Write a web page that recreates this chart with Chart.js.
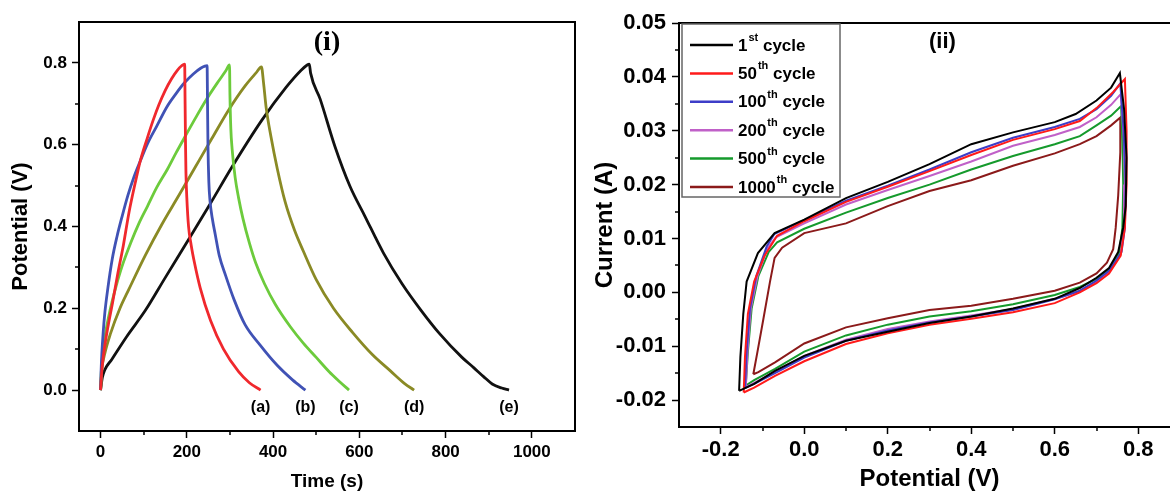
<!DOCTYPE html>
<html>
<head>
<meta charset="utf-8">
<script src="https://cdn.jsdelivr.net/npm/chart.js@4.4.1/dist/chart.umd.min.js"></script>
<style>
  html, body { margin: 0; padding: 0; background: #fff; overflow: hidden; width: 1170px; height: 495px; }
  #gcd { position: absolute; left: 0; top: 0; }
  #cv { position: absolute; left: 590px; top: 0; }
</style>
</head>
<body>
<canvas id="gcd" width="590" height="495"></canvas>
<canvas id="cv" width="610" height="495"></canvas>
<script>
// ---------- panel (i): charge / discharge curves ----------
const gcdTags = ['(a)', '(b)', '(c)', '(d)', '(e)'];
const gcdColors = ['#f0282d', '#4052b5', '#6ccb3c', '#8a8a25', '#111111'];
const gcdXTicks = [0, 200, 400, 600, 800, 1000];
const gcdYTicks = [0, 0.2, 0.4, 0.6, 0.8];

const timeA = [0, 2, 5, 10, 18, 28, 40, 53, 66, 80, 92, 108, 122, 135, 150, 165, 178, 188, 195,
  196, 197, 198, 200, 204, 210, 218, 231, 255, 285, 320, 345, 371];
const potA = [0, 0.035, 0.07, 0.11, 0.16, 0.215, 0.285, 0.355, 0.435, 0.505, 0.56, 0.615, 0.66, 0.697, 0.733, 0.762, 0.782, 0.793, 0.797,
  0.70, 0.60, 0.53, 0.47, 0.40, 0.355, 0.31, 0.25, 0.17, 0.10, 0.045, 0.018, 0];

const timeB = [0, 1, 3, 6, 10, 17, 27, 38, 50, 63, 77, 92, 110, 130, 154, 175, 195, 215, 232, 242, 247,
  248, 249, 251, 254, 259, 266, 275, 290, 310, 335, 370, 410, 445, 475];
const potB = [0, 0.04, 0.09, 0.14, 0.19, 0.25, 0.32, 0.375, 0.425, 0.475, 0.52, 0.56, 0.605, 0.645, 0.693, 0.725, 0.752, 0.773, 0.787, 0.792, 0.793,
  0.70, 0.60, 0.51, 0.46, 0.42, 0.38, 0.33, 0.28, 0.22, 0.16, 0.11, 0.06, 0.025, 0];

const timeC = [0, 2, 5, 10, 23, 35, 49, 70, 90, 109, 130, 155, 175, 196, 220, 245, 270, 290, 299,
  300, 302, 305, 312, 320, 330, 345, 360, 380, 405, 440, 470, 500, 530, 555, 576];
const potC = [0, 0.05, 0.09, 0.13, 0.2, 0.25, 0.3, 0.36, 0.41, 0.45, 0.495, 0.54, 0.58, 0.62, 0.665, 0.71, 0.75, 0.78, 0.795,
  0.72, 0.64, 0.59, 0.52, 0.47, 0.42, 0.36, 0.31, 0.26, 0.21, 0.155, 0.115, 0.08, 0.045, 0.02, 0];

const timeD = [0, 3, 10, 23, 45, 65, 104, 142, 181, 220, 258, 297, 336, 360, 373,
  378, 384, 395, 410, 428, 450, 470, 500, 540, 585, 630, 672, 705, 727];
const potD = [0, 0.05, 0.09, 0.138, 0.2, 0.245, 0.33, 0.405, 0.475, 0.546, 0.615, 0.685, 0.745, 0.775, 0.79,
  0.75, 0.69, 0.62, 0.54, 0.46, 0.39, 0.34, 0.27, 0.20, 0.14, 0.087, 0.047, 0.016, 0];

const timeE = [0, 4, 10, 26, 60, 104, 150, 208, 255, 305, 374, 430, 465, 479, 484,
  487, 509, 543, 578, 613, 656, 699, 743, 786, 838, 865, 888, 908, 930, 947];
const potE = [0, 0.03, 0.05, 0.075, 0.13, 0.195, 0.275, 0.375, 0.457, 0.546, 0.66, 0.74, 0.782, 0.795, 0.797,
  0.775, 0.712, 0.597, 0.499, 0.425, 0.335, 0.26, 0.195, 0.138, 0.08, 0.055, 0.033, 0.015, 0.005, 0];

// ---------- panel (ii): cyclic voltammograms ----------
const cycleNums = ['1', '50', '100', '200', '500', '1000'];
const cycleSups = ['st', 'th', 'th', 'th', 'th', 'th'];
const cycleColors = ['#000000', '#ff1a1a', '#3d3dc8', '#c060c8', '#159a2c', '#8b1a1a'];
const cvXTicks = [-0.2, 0, 0.2, 0.4, 0.6, 0.8];
const cvYTicks = [-0.02, -0.01, 0, 0.01, 0.02, 0.03, 0.04, 0.05];

const volt1 = [-0.156, -0.153, -0.146, -0.138, -0.111, -0.071, 0.0, 0.1, 0.2, 0.3, 0.4, 0.5, 0.6, 0.65, 0.70, 0.735, 0.756,
  0.766, 0.772, 0.770, 0.764, 0.752, 0.73, 0.70, 0.66, 0.60, 0.5, 0.4, 0.3, 0.2, 0.1, 0.0, -0.07, -0.12, -0.156];
const curr1 = [-0.0183, -0.012, -0.004, 0.002, 0.0073, 0.011, 0.0135, 0.0175, 0.0205, 0.0238, 0.0275, 0.0297, 0.0316, 0.0331, 0.0356, 0.038, 0.0407,
  0.034, 0.025, 0.016, 0.012, 0.0075, 0.0045, 0.0027, 0.0008, -0.0012, -0.003, -0.0045, -0.0057, -0.0073, -0.009, -0.0118, -0.0146, -0.017, -0.0183];

const volt50 = [-0.145, -0.142, -0.135, -0.12, -0.095, -0.065, 0.0, 0.1, 0.2, 0.3, 0.4, 0.5, 0.6, 0.66, 0.70, 0.74, 0.768,
  0.772, 0.772, 0.768, 0.758, 0.73, 0.70, 0.66, 0.60, 0.5, 0.4, 0.3, 0.2, 0.1, 0.0, -0.07, -0.12, -0.145];
const curr50 = [-0.0186, -0.012, -0.004, 0.002, 0.0068, 0.0105, 0.0132, 0.0168, 0.0196, 0.0225, 0.0255, 0.0283, 0.0303, 0.0318, 0.0342, 0.0372, 0.0396,
  0.030, 0.020, 0.012, 0.0068, 0.0035, 0.0017, 0.0, -0.002, -0.0037, -0.0049, -0.006, -0.0076, -0.0096, -0.0128, -0.0155, -0.0177, -0.0186];

const volt100 = [-0.142, -0.138, -0.13, -0.115, -0.09, -0.072, 0.0, 0.1, 0.2, 0.3, 0.4, 0.5, 0.6, 0.66, 0.70, 0.735, 0.757,
  0.765, 0.770, 0.768, 0.76, 0.73, 0.70, 0.66, 0.60, 0.5, 0.4, 0.3, 0.2, 0.1, 0.0, -0.07, -0.12, -0.142];
const curr100 = [-0.0178, -0.011, -0.003, 0.003, 0.0085, 0.0108, 0.0134, 0.017, 0.0198, 0.0228, 0.026, 0.0287, 0.0307, 0.0322, 0.034, 0.0365, 0.0388,
  0.030, 0.020, 0.012, 0.0075, 0.004, 0.0022, 0.0003, -0.0013, -0.0033, -0.0045, -0.0056, -0.0071, -0.009, -0.0121, -0.015, -0.017, -0.0178];

const volt200 = [-0.140, -0.136, -0.128, -0.112, -0.088, -0.068, 0.0, 0.1, 0.2, 0.3, 0.4, 0.5, 0.6, 0.66, 0.70, 0.735, 0.758,
  0.765, 0.768, 0.766, 0.758, 0.73, 0.70, 0.66, 0.60, 0.5, 0.4, 0.3, 0.2, 0.1, 0.0, -0.07, -0.12, -0.14];
const curr200 = [-0.0176, -0.011, -0.003, 0.003, 0.0082, 0.0102, 0.0128, 0.0163, 0.019, 0.0216, 0.0243, 0.0272, 0.0292, 0.0307, 0.0325, 0.0348, 0.0368,
  0.029, 0.020, 0.012, 0.0072, 0.0038, 0.002, 0.0002, -0.0012, -0.0031, -0.0043, -0.0054, -0.0068, -0.0088, -0.0118, -0.0147, -0.0168, -0.0176];

const volt500 = [-0.140, -0.135, -0.126, -0.11, -0.085, -0.065, 0.0, 0.1, 0.2, 0.3, 0.4, 0.5, 0.6, 0.66, 0.70, 0.735, 0.759,
  0.762, 0.764, 0.762, 0.755, 0.73, 0.70, 0.66, 0.60, 0.5, 0.4, 0.3, 0.2, 0.1, 0.0, -0.07, -0.12, -0.14];
const curr500 = [-0.0173, -0.011, -0.003, 0.003, 0.0075, 0.0093, 0.0118, 0.0148, 0.0175, 0.0200, 0.0228, 0.0253, 0.0275, 0.029, 0.031, 0.0328, 0.0346,
  0.028, 0.020, 0.012, 0.0075, 0.0042, 0.0025, 0.001, -0.0005, -0.0022, -0.0035, -0.0045, -0.006, -0.008, -0.011, -0.0142, -0.0163, -0.0173];

const volt1000 = [-0.122, -0.112, -0.098, -0.082, -0.071, -0.053, 0.0, 0.1, 0.2, 0.3, 0.4, 0.5, 0.6, 0.66, 0.70, 0.735, 0.758,
  0.757, 0.752, 0.746, 0.74, 0.725, 0.70, 0.66, 0.60, 0.5, 0.4, 0.3, 0.2, 0.1, 0.0, -0.07, -0.11, -0.122];
const curr1000 = [-0.0152, -0.011, -0.005, 0.002, 0.0064, 0.0083, 0.011, 0.0128, 0.016, 0.0188, 0.0208, 0.0235, 0.0258, 0.0275, 0.029, 0.031, 0.0325,
  0.026, 0.018, 0.012, 0.008, 0.0055, 0.0035, 0.0018, 0.0003, -0.0012, -0.0025, -0.0033, -0.0048, -0.0065, -0.0095, -0.013, -0.0148, -0.0152];

// ---------- helpers ----------
const FONT = '"Liberation Sans", Arial, sans-serif';
Chart.defaults.font.family = FONT;
Chart.defaults.color = '#000';

const toPoints = (xs, ys) => xs.map((x, i) => ({ x: x, y: ys[i] }));

function minorValues(major, lo, hi) {
  const step = major[1] - major[0];
  const out = [];
  if (major[0] - step / 2 > lo + 1e-9) out.push(major[0] - step / 2);
  major.forEach(v => { if (v + step / 2 < hi - 1e-9) out.push(v + step / 2); });
  return out;
}

// closes the box and adds the short minor ticks
const frame = {
  id: 'frame',
  afterDraw(chart) {
    const { ctx, chartArea: a, scales } = chart;
    const sx = scales.x, sy = scales.y;
    ctx.save();
    ctx.strokeStyle = '#000';
    ctx.lineWidth = 2;
    ctx.beginPath();
    ctx.moveTo(a.left - 1, a.top);
    ctx.lineTo(a.right, a.top);
    ctx.lineTo(a.right, a.bottom + 1);
    ctx.stroke();
    ctx.lineWidth = 1.5;
    ctx.beginPath();
    minorValues(sx.ticks.map(t => t.value), sx.min, sx.max).forEach(v => {
      const p = Math.round(sx.getPixelForValue(v));
      ctx.moveTo(p, a.bottom);
      ctx.lineTo(p, a.bottom + 4);
    });
    minorValues(sy.ticks.map(t => t.value), sy.min, sy.max).forEach(v => {
      const p = Math.round(sy.getPixelForValue(v));
      ctx.moveTo(a.left - 4, p);
      ctx.lineTo(a.left, p);
    });
    ctx.stroke();
    ctx.restore();
  }
};

function axisOpts(o) {
  return {
    type: 'linear',
    min: o.min, max: o.max,
    afterBuildTicks: s => { s.ticks = o.ticks.map(v => ({ value: v })); },
    afterFit: s => { if (o.width) s.width = o.width; if (o.height) s.height = o.height; },
    border: { display: true, color: '#000', width: 2 },
    grid: { drawOnChartArea: false, drawTicks: true, tickLength: 7, tickWidth: 1.5, tickColor: '#000' },
    ticks: {
      autoSkip: false, maxRotation: 0, padding: o.pad, color: '#000',
      font: { size: o.tickSize, weight: 'bold' },
      callback: o.fmt
    },
    title: {
      display: true, text: o.title, color: '#000',
      font: { size: o.titleSize, weight: 'bold' },
      padding: o.titlePad
    }
  };
}

// ---------- chart (i) ----------
const gcdLabels = {
  id: 'gcdLabels',
  afterDraw(chart) {
    const { ctx, scales: { x, y } } = chart;
    ctx.save();
    ctx.fillStyle = '#000';
    ctx.textAlign = 'center';
    ctx.textBaseline = 'middle';
    ctx.font = 'bold 16px ' + FONT;
    chart.data.datasets.forEach((ds, i) => {
      const last = ds.data[ds.data.length - 1];
      ctx.fillText(gcdTags[i], x.getPixelForValue(last.x), y.getPixelForValue(-0.042));
    });
    ctx.font = 'bold 28px "Liberation Serif", "Times New Roman", serif';
    ctx.fillText('(i)', x.getPixelForValue(525), y.getPixelForValue(0.849));
    ctx.restore();
  }
};

const gcdSeries = [[timeA, potA], [timeB, potB], [timeC, potC], [timeD, potD], [timeE, potE]];

new Chart(document.getElementById('gcd'), {
  type: 'scatter',
  data: {
    datasets: gcdSeries.map((s, i) => ({
      label: gcdTags[i],
      data: toPoints(s[0], s[1]),
      showLine: true,
      borderColor: gcdColors[i],
      backgroundColor: gcdColors[i],
      borderWidth: 2.8,
      pointRadius: 0,
      cubicInterpolationMode: 'monotone'
    }))
  },
  options: {
    responsive: false,
    animation: false,
    devicePixelRatio: 1,
    layout: { padding: { left: 0, top: 22, right: 15, bottom: 0 } },
    plugins: { legend: { display: false }, tooltip: { enabled: false } },
    scales: {
      x: axisOpts({ min: -50, max: 1100, ticks: gcdXTicks, height: 64, pad: 4, tickSize: 17,
        fmt: v => String(Math.round(v)), title: 'Time (s)', titleSize: 19, titlePad: { top: 0, bottom: 2 } }),
      y: axisOpts({ min: -0.1, max: 0.9, ticks: gcdYTicks, width: 79, pad: 5, tickSize: 17,
        fmt: v => v.toFixed(1), title: 'Potential (V)', titleSize: 22, titlePad: { top: 8, bottom: 0 } })
    }
  },
  plugins: [frame, gcdLabels]
});

// ---------- chart (ii) ----------
const cvLegend = {
  id: 'cvLegend',
  afterDraw(chart) {
    const { ctx, chartArea: a, scales: { x, y } } = chart;
    ctx.save();
    const L = a.left + 3, T = a.top + 1;
    ctx.fillStyle = '#fff';
    ctx.fillRect(L, T, 158, 173);
    ctx.strokeStyle = '#666';
    ctx.lineWidth = 1.5;
    ctx.strokeRect(L, T, 158, 173);
    ctx.fillStyle = '#000';
    ctx.textBaseline = 'middle';
    ctx.textAlign = 'left';
    chart.data.datasets.forEach((ds, i) => {
      const yy = T + 21 + i * 28.4;
      ctx.strokeStyle = ds.borderColor;
      ctx.lineWidth = 2.5;
      ctx.beginPath();
      ctx.moveTo(L + 8, yy);
      ctx.lineTo(L + 51, yy);
      ctx.stroke();
      let tx = L + 56;
      ctx.font = 'bold 17px ' + FONT;
      ctx.fillText(cycleNums[i], tx, yy + 1);
      tx += ctx.measureText(cycleNums[i]).width + 1;
      ctx.font = 'bold 11px ' + FONT;
      ctx.fillText(cycleSups[i], tx, yy - 7);
      tx += ctx.measureText(cycleSups[i]).width;
      ctx.font = 'bold 17px ' + FONT;
      ctx.fillText(' cycle', tx, yy + 1);
    });
    ctx.textAlign = 'center';
    ctx.font = 'bold 22px ' + FONT;
    ctx.fillText('(ii)', x.getPixelForValue(0.331), y.getPixelForValue(0.0464));
    ctx.restore();
  }
};

const cvSeries = [[volt1, curr1], [volt50, curr50], [volt100, curr100], [volt200, curr200], [volt500, curr500], [volt1000, curr1000]];

new Chart(document.getElementById('cv'), {
  type: 'scatter',
  data: {
    datasets: cvSeries.map((s, i) => ({
      label: cycleNums[i] + cycleSups[i] + ' cycle',
      data: toPoints(s[0], s[1]),
      showLine: true,
      borderColor: cycleColors[i],
      backgroundColor: cycleColors[i],
      borderWidth: 2,
      pointRadius: 0,
      tension: 0
    }))
  },
  options: {
    responsive: false,
    animation: false,
    devicePixelRatio: 1,
    layout: { padding: { left: 0, top: 23, right: 20, bottom: 0 } },
    plugins: { legend: { display: false }, tooltip: { enabled: false } },
    scales: {
      x: axisOpts({ min: -0.3, max: 0.9, ticks: cvXTicks, height: 68, pad: 3, tickSize: 22,
        fmt: v => v.toFixed(1), title: 'Potential (V)', titleSize: 24, titlePad: { top: 0, bottom: 1 } }),
      y: axisOpts({ min: -0.025, max: 0.05, ticks: cvYTicks, width: 89, pad: 6, tickSize: 22,
        fmt: v => v.toFixed(2), title: 'Current (A)', titleSize: 24, titlePad: { top: 1, bottom: 0 } })
    }
  },
  plugins: [frame, cvLegend]
});
</script>
</body>
</html>
